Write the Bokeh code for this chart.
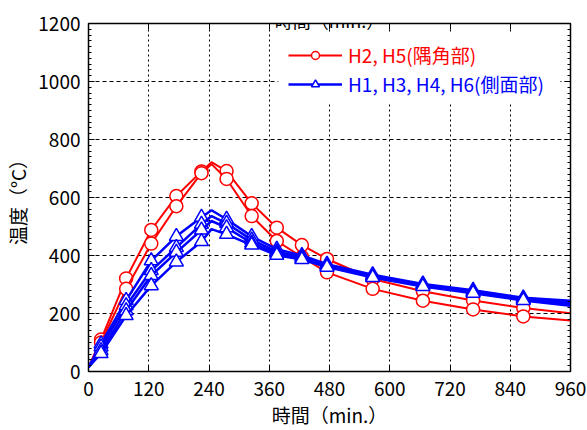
from bokeh.plotting import figure
from bokeh.models import (Legend, LegendItem, LinearAxis, FixedTicker, Label,
                          BoxAnnotation, Range1d, Grid)
from bokeh.embed import file_html
from bokeh.resources import INLINE

# ---- data ----
time_min = [0, 25, 75, 125, 175, 225, 245, 275, 325, 375, 425, 475, 566, 666, 766, 866, 960]
marker_idx = [1, 2, 3, 4, 5, 7, 8, 9, 10, 11, 12, 13, 14, 15]

# H2, H5 (corner)
h2 = [15, 110, 321, 488, 605, 690, 722, 691, 580, 496, 436, 388, 319, 277, 245, 219, 201]
h5 = [15, 100, 285, 441, 570, 684, 715, 664, 536, 450, 395, 342, 285, 244, 214, 190, 176]

# H1, H3, H4, H6 (side)
h1 = [15, 95, 245, 382, 466, 532, 556, 525, 466, 422, 400, 370, 334, 302, 280, 254, 244]
h3 = [15, 85, 227, 348, 428, 508, 536, 511, 454, 413, 395, 366, 330, 299, 276, 251, 238]
h4 = [15, 72, 210, 331, 411, 488, 519, 496, 443, 408, 390, 363, 327, 296, 273, 248, 232]
h6 = [15, 62, 193, 296, 378, 448, 491, 473, 436, 401, 386, 360, 324, 293, 270, 245, 227]

x_ticks = [0, 120, 240, 360, 480, 600, 720, 840, 960]
y_ticks = [0, 200, 400, 600, 800, 1000, 1200]
y_minor = list(range(0, 1201, 20))

label_red = "H2, H5(隅角部)"
label_blue = "H1, H3, H4, H6(側面部)"
x_title = "時間（min.）"
y_title = "温度（°C）"
next_panel_top = "1200"

FONT = "Noto Sans CJK JP"
RED = "#ff0000"
BLUE = "#0000ff"

p = figure(width=587, height=430, output_backend="svg", toolbar_location=None,
           x_range=Range1d(0, 960), y_range=Range1d(0, 1200),
           min_border_left=88, min_border_right=17, min_border_top=23,
           min_border_bottom=57, x_axis_location=None, y_axis_location=None)
p.outline_line_color = "black"
p.outline_line_width = 1.5
p.background_fill_color = "white"
p.border_fill_color = "white"

# hide the default grids; dashed/dotted grids are added below
for g in list(p.grid):
    g.visible = False


def style_axis(ax, ticks, minor, show_labels):
    ax.ticker = FixedTicker(ticks=ticks, minor_ticks=minor)
    ax.major_tick_in = 6
    ax.major_tick_out = 0
    ax.minor_tick_in = 3
    ax.minor_tick_out = 0
    ax.axis_line_color = "black"
    ax.major_tick_line_color = "black"
    ax.minor_tick_line_color = "black"
    if show_labels:
        ax.major_label_text_font = FONT
        ax.major_label_text_font_size = "19px"
        ax.major_label_text_color = "black"
        ax.axis_label_text_font = FONT
        ax.axis_label_text_font_size = "19px"
        ax.axis_label_text_font_style = "normal"
        ax.axis_label_text_color = "black"
    else:
        ax.major_label_text_font_size = "0px"
        ax.major_label_overrides = {t: "" for t in ticks}
        ax.major_label_standoff = 0


xb = LinearAxis(axis_label=x_title)
style_axis(xb, x_ticks, [], True)
xb.major_label_standoff = 10
xb.axis_label_standoff = 2
p.add_layout(xb, "below")

yl = LinearAxis(axis_label=y_title)
style_axis(yl, y_ticks, y_minor, True)
yl.major_label_standoff = 8
yl.axis_label_standoff = 4
p.add_layout(yl, "left")

xt = LinearAxis()
style_axis(xt, x_ticks, [], False)
p.add_layout(xt, "above")

yr = LinearAxis()
style_axis(yr, y_ticks, y_minor, False)
p.add_layout(yr, "right")

gx = Grid(dimension=0, ticker=FixedTicker(ticks=x_ticks), grid_line_color="black",
          grid_line_dash="2 3", grid_line_width=1)
gy = Grid(dimension=1, ticker=FixedTicker(ticks=y_ticks), grid_line_color="black",
          grid_line_dash="4 3", grid_line_width=1)
p.add_layout(gx)
p.add_layout(gy)

mx = [time_min[i] for i in marker_idx]

red_items = []
for series in (h2, h5):
    ln = p.line(time_min, series, line_color=RED, line_width=2)
    sc = p.scatter(mx, [series[i] for i in marker_idx], marker="circle", size=13,
                   line_color=RED, fill_color="white", line_width=1.5)
    red_items.append((ln, sc))

blue_items = []
for series in (h1, h3, h4, h6):
    ln = p.line(time_min, series, line_color=BLUE, line_width=2.5)
    sc = p.scatter(mx, [series[i] for i in marker_idx], marker="triangle", size=14,
                   line_color=BLUE, fill_color="white", line_width=1.5)
    blue_items.append((ln, sc))

# white area behind the legend (hides grid lines)
p.add_layout(BoxAnnotation(left=378, right=940, bottom=929, top=1169,
                           fill_color="white", fill_alpha=1.0, line_alpha=0))


def make_legend(item, color, loc):
    return Legend(items=[item], location=loc, orientation="vertical",
                  glyph_width=54, glyph_height=20, label_height=20,
                  label_standoff=6, padding=5, margin=0, spacing=0,
                  label_text_font=FONT, label_text_font_size="19px",
                  label_text_color=color, border_line_alpha=0,
                  background_fill_alpha=0)


p.add_layout(make_legend(LegendItem(label=label_red, renderers=list(red_items[0])), RED, (195, 298)))
p.add_layout(make_legend(LegendItem(label=label_blue, renderers=list(blue_items[0])), BLUE, (195, 269)))

# neighbouring panels' texts at the picture edges
p.add_layout(Label(x=480, y=1212, text=x_title, text_align="center",
                   text_baseline="alphabetic", text_font=FONT,
                   text_font_size="18px", text_color="black"))
p.add_layout(Label(x=-16, y=-160, text=next_panel_top, text_align="right",
                   text_baseline="alphabetic", text_font=FONT,
                   text_font_size="18px", text_color="black",
                   background_fill_color="white", background_fill_alpha=1.0))

open("out.html", "w").write(file_html(p, INLINE))
